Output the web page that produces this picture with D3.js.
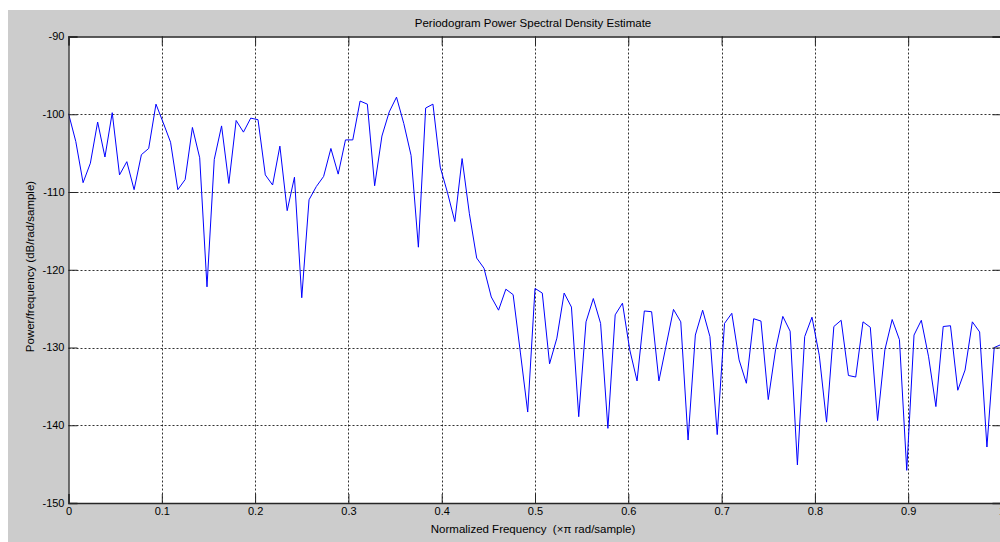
<!DOCTYPE html>
<html>
<head>
<meta charset="utf-8">
<script src="https://cdn.jsdelivr.net/npm/d3@7"></script>
<style>
  html, body { margin: 0; padding: 0; background: #fff; }
  svg { display: block; }
  text { font-family: "Liberation Sans", Arial, sans-serif; fill: #000; white-space: pre; }
</style>
</head>
<body>
<svg width="1000" height="542"></svg>
<script>
// PSD values in dB/rad/sample, one per frequency bin (0..1, step 1/128)
const psd = [
  -99.9, -103.5, -108.8, -106.3, -101.0, -105.5, -99.8, -107.8, -106.1, -109.7,
  -105.2, -104.4, -98.7, -101.1, -103.6, -109.7, -108.4, -101.7, -105.6, -122.2,
  -105.8, -101.5, -108.9, -100.8, -102.3, -100.5, -100.7, -107.8, -109.1, -104.1,
  -112.4, -108.1, -123.6, -111.0, -109.3, -108.0, -104.4, -107.7, -103.3, -103.3,
  -98.3, -98.7, -109.2, -102.8, -99.7, -97.8, -101.2, -105.3, -117.1, -99.2,
  -98.7, -106.8, -110.1, -113.8, -105.7, -112.8, -118.5, -119.8, -123.5, -125.2,
  -122.5, -123.2, -130.7, -138.3, -122.4, -123.0, -132.1, -128.8, -123.0, -124.8,
  -138.9, -126.7, -123.7, -126.9, -140.4, -125.8, -124.3, -130.3, -134.3, -125.3,
  -125.4, -134.3, -129.7, -125.1, -126.7, -141.9, -128.4, -125.2, -128.6, -141.2,
  -126.9, -125.6, -131.6, -134.6, -126.3, -126.6, -136.7, -130.3, -126.0, -127.9,
  -145.1, -128.6, -126.1, -131.0, -139.6, -127.3, -126.5, -133.6, -133.8, -126.7,
  -127.4, -139.4, -130.3, -126.4, -129.0, -145.8, -128.4, -126.5, -131.2, -137.6,
  -127.3, -127.2, -135.5, -132.9, -126.7, -128.0, -142.8, -130.0, -129.6
]
const freqs = psd.map((d, i) => i / 128)

const xTicks = [0, 0.1, 0.2, 0.3, 0.4, 0.5, 0.6, 0.7, 0.8, 0.9, 1]
const yTicks = [-150, -140, -130, -120, -110, -100, -90]

const titleText = 'Periodogram Power Spectral Density Estimate'
const xLabelText = 'Normalized Frequency  (\u00d7\u03c0 rad/sample)'
const yLabelText = 'Power/frequency (dB/rad/sample)'

const svg = d3.select('svg')
const width = +svg.attr('width')
const height = +svg.attr('height')

// figure background (MATLAB grey)
svg.append('rect')
  .attr('x', 8).attr('y', 10)
  .attr('width', width - 8).attr('height', height - 10)
  .attr('fill', '#cccccc')

const plotL = 68.5, plotT = 36.5, plotR = 1001.5, plotB = 503
const xScale = d3.scaleLinear().domain([0, 1]).range([plotL, plotR])
const yScale = d3.scaleLinear().domain([-150, -90]).range([plotB, plotT])

svg.append('defs').append('clipPath').attr('id', 'plot')
  .append('rect')
  .attr('x', plotL).attr('y', plotT)
  .attr('width', plotR - plotL).attr('height', plotB - plotT)

svg.append('rect')
  .attr('x', plotL).attr('y', plotT)
  .attr('width', plotR - plotL).attr('height', plotB - plotT)
  .attr('fill', '#fff')

// grid
const grid = svg.append('g')
grid.selectAll('.vgrid')
  .data(xTicks.slice(1, -1))
  .enter().append('line')
  .attr('x1', d => Math.round(xScale(d)) + 0.5)
  .attr('x2', d => Math.round(xScale(d)) + 0.5)
  .attr('y1', plotT).attr('y2', plotB)
  .attr('stroke', '#000')
  .attr('stroke-width', 1)
  .attr('stroke-dasharray', '2,2')
  .attr('opacity', 0.8)

grid.selectAll('.hgrid')
  .data(yTicks.slice(1, -1))
  .enter().append('line')
  .attr('x1', plotL).attr('x2', plotR)
  .attr('y1', d => Math.round(yScale(d)) + 0.5)
  .attr('y2', d => Math.round(yScale(d)) + 0.5)
  .attr('stroke', '#000')
  .attr('stroke-width', 1)
  .attr('stroke-dasharray', '2,2')
  .attr('opacity', 0.8)

// the PSD line
const line = d3.line()
  .x((d, i) => xScale(freqs[i]))
  .y(d => yScale(d))

svg.append('path')
  .datum(psd)
  .attr('clip-path', 'url(#plot)')
  .attr('d', line)
  .attr('fill', 'none')
  .attr('stroke', '#0000ff')
  .attr('stroke-width', 1)

// axes (ticks pointing inward, MATLAB style)
const tickLen = 9
const axisColor = '#262626'

const xAxis = d3.axisBottom(xScale)
  .tickValues(xTicks)
  .tickSize(-tickLen)
  .tickPadding(4)
  .tickFormat(d => d === 0 ? '0' : (d === 1 ? '1' : d3.format('.1f')(d)))

const yAxis = d3.axisLeft(yScale)
  .tickValues(yTicks)
  .tickSize(-tickLen)
  .tickPadding(4)
  .tickFormat(d => String(d))

const gx = svg.append('g')
  .attr('transform', `translate(0, ${plotB})`)
  .call(xAxis)
const gy = svg.append('g')
  .attr('transform', `translate(${plotL}, 0)`)
  .call(yAxis)

// top and right mirror axes (ticks only)
const gxTop = svg.append('g')
  .attr('transform', `translate(0, ${plotT})`)
  .call(d3.axisTop(xScale).tickValues(xTicks).tickSize(-tickLen).tickFormat(''))
const gyRight = svg.append('g')
  .attr('transform', `translate(${plotR}, 0)`)
  .call(d3.axisRight(yScale).tickValues(yTicks).tickSize(-tickLen).tickFormat(''))

for (const g of [gx, gy, gxTop, gyRight]) {
  g.select('.domain').attr('stroke', axisColor).attr('stroke-width', 1.3)
  g.selectAll('.tick line').attr('stroke', axisColor).attr('stroke-width', 1)
  g.selectAll('.tick text')
    .attr('font-size', 11)
    .attr('font-family', '"Liberation Sans", Arial, sans-serif')
    .attr('fill', '#111')
}
gy.selectAll('.tick text').attr('dy', '0.3em')

// titles
svg.append('text')
  .attr('x', 533).attr('y', 27)
  .attr('text-anchor', 'middle')
  .attr('font-size', 11.5)
  .text(titleText)

svg.append('text')
  .attr('x', 533).attr('y', 533)
  .attr('text-anchor', 'middle')
  .attr('font-size', 11.5)
  .text(xLabelText)

svg.append('text')
  .attr('transform', 'translate(34, 266.5) rotate(-90)')
  .attr('text-anchor', 'middle')
  .attr('font-size', 11.5)
  .text(yLabelText)
</script>
</body>
</html>
